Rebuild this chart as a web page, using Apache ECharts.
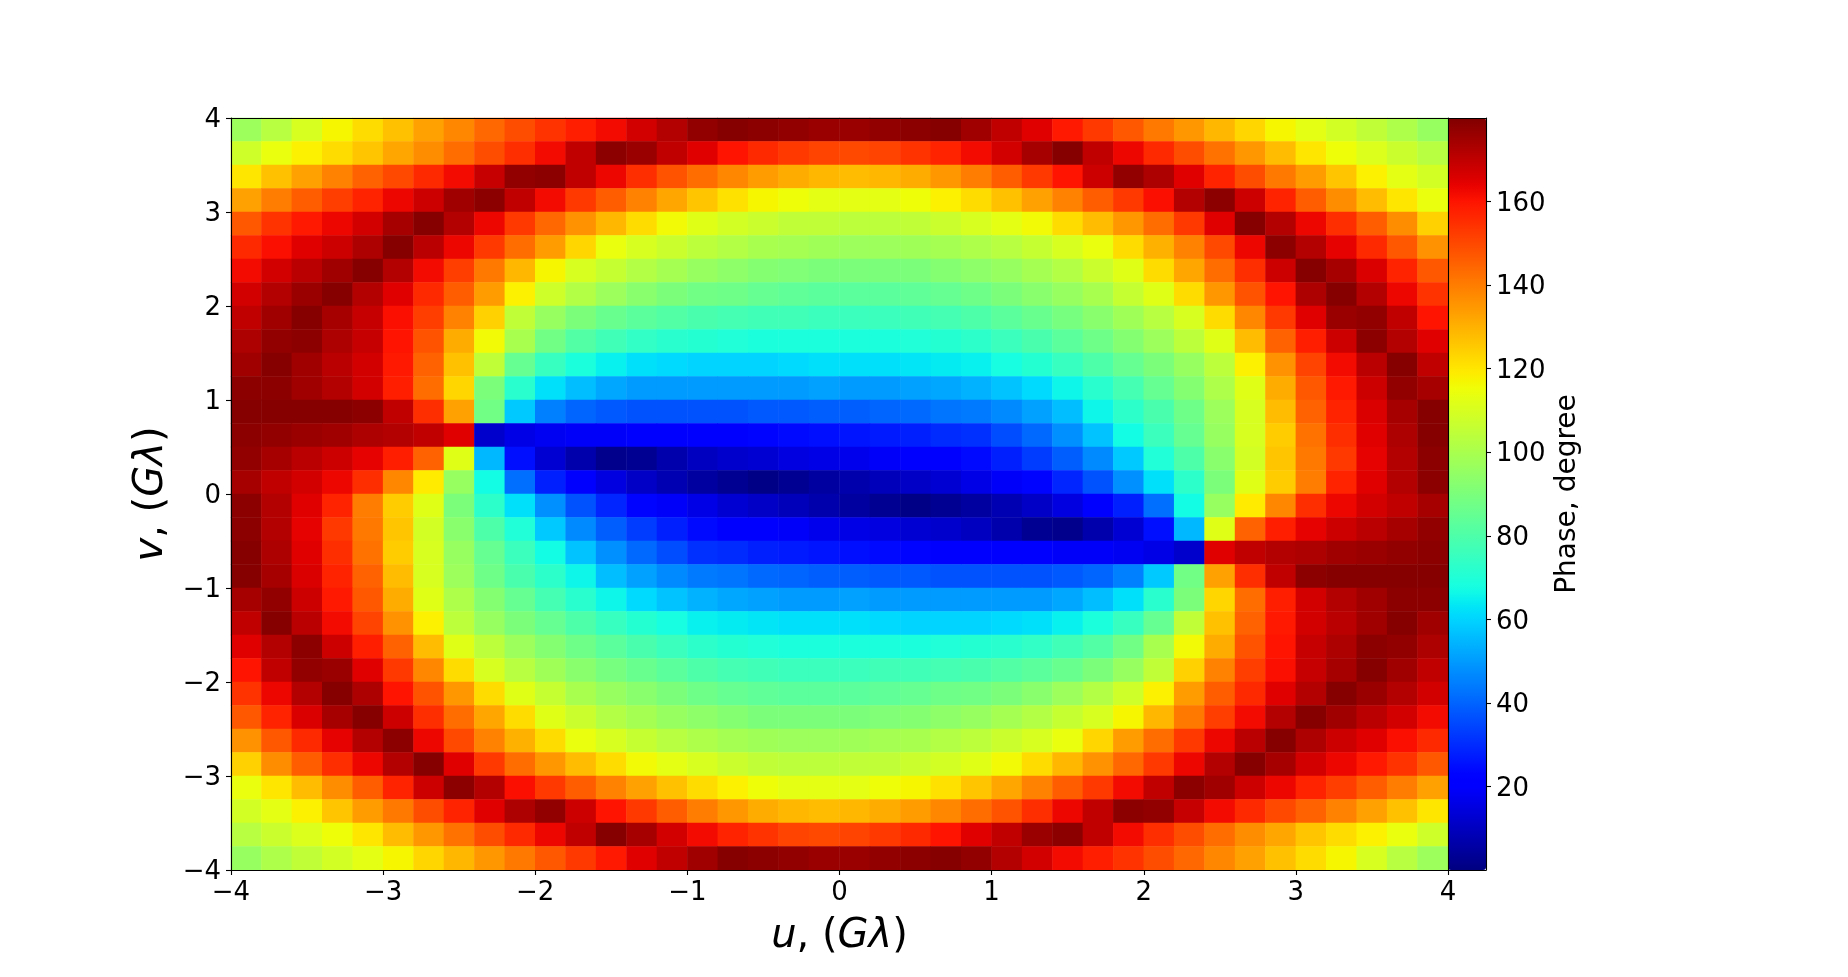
<!DOCTYPE html>
<html>
<head>
<meta charset="utf-8">
<style>html,body{margin:0;padding:0;background:#fff}#chart{width:1848px;height:977px}</style>
<script src="https://cdn.jsdelivr.net/npm/echarts@6/dist/echarts.min.js"></script>
</head>
<body>
<div id="chart"></div>
<script>
const uBins = [-3.9,-3.7,-3.5,-3.3,-3.1,-2.9,-2.7,-2.5,-2.3,-2.1,-1.9,-1.7,-1.5,-1.3,-1.1,-0.9,-0.7,-0.5,-0.3,-0.1,0.1,0.3,0.5,0.7,0.9,1.1,1.3,1.5,1.7,1.9,2.1,2.3,2.5,2.7,2.9,3.1,3.3,3.5,3.7,3.9];
const vBins = [3.875,3.625,3.375,3.125,2.875,2.625,2.375,2.125,1.875,1.625,1.375,1.125,0.875,0.625,0.375,0.125,-0.125,-0.375,-0.625,-0.875,-1.125,-1.375,-1.625,-1.875,-2.125,-2.375,-2.625,-2.875,-3.125,-3.375,-3.625,-3.875];
const colorbarTicks = [20,40,60,80,100,120,140,160];
const phaseRows = [
[97,103,110,117,122,127,133,138,144,149,154,158,162,167,172,177,179,178,177,176,176,177,178,179,175,170,165,159,153,147,141,135,129,123,117,113,109,105,101,96],
[108,114,118,122,126,132,137,143,149,155,162,170,178,176,170,165,160,156,153,151,150,151,154,157,162,167,174,179,170,163,156,149,142,135,128,120,115,111,107,103],
[120,127,133,139,145,150,156,162,169,177,178,170,163,155,148,143,138,134,131,129,128,129,131,135,140,146,153,160,168,177,173,165,157,149,141,134,126,118,113,109],
[133,140,146,152,157,163,168,175,178,170,162,153,146,139,132,126,121,117,115,113,113,113,115,118,122,127,133,139,146,153,161,172,178,168,157,146,137,128,120,114],
[147,154,159,163,167,174,179,172,163,153,144,136,129,122,116,112,109,107,105,105,104,104,105,107,110,113,116,122,128,135,143,153,165,179,172,163,155,146,137,124],
[156,161,165,168,173,179,171,163,153,143,134,123,114,110,107,104,102,100,99,98,97,97,98,99,101,103,106,110,114,122,130,139,150,163,178,172,164,156,147,136],
[162,167,171,175,179,172,162,152,141,129,117,110,106,102,99,96,94,92,91,90,90,90,90,92,94,96,99,102,107,112,122,132,143,155,168,179,174,166,157,147],
[167,172,176,179,172,165,156,146,134,118,108,102,97,93,90,88,87,85,84,83,83,83,84,85,87,90,93,96,100,106,112,122,135,148,160,173,179,172,163,154],
[170,175,179,174,169,161,152,139,124,105,96,90,86,83,81,79,78,77,77,76,76,76,77,78,80,83,86,89,93,98,103,110,122,138,153,165,176,177,170,160],
[173,177,178,173,169,160,148,131,116,100,88,81,77,74,72,71,70,69,69,69,69,69,70,71,73,76,79,83,87,92,97,104,112,128,145,158,168,178,172,165],
[175,179,175,171,167,159,145,127,105,85,75,69,65,62,61,60,60,60,61,62,62,62,63,64,65,68,71,75,80,85,90,96,104,118,136,151,162,171,179,170],
[178,178,175,172,167,158,143,123,90,72,62,56,52,50,50,50,50,50,50,51,50,50,51,52,54,57,61,66,72,78,85,92,101,112,131,147,159,168,177,174],
[179,179,179,179,178,170,155,133,88,58,45,40,38,37,37,37,37,38,38,39,39,40,41,43,44,47,51,56,66,73,79,87,97,110,128,145,157,166,174,179],
[178,177,176,175,173,172,170,165,12,16,18,19,19,20,21,21,22,23,24,25,26,27,28,30,31,36,41,48,57,67,76,85,96,110,125,142,155,165,173,179],
[177,174,171,168,164,158,145,112,55,25,13,7,2,3,7,10,12,13,15,16,17,19,21,22,24,28,33,39,47,58,70,80,93,109,126,141,153,164,172,178],
[174,170,167,163,155,138,119,96,67,42,28,20,15,11,8,5,3,1,3,5,7,9,11,13,16,19,23,29,37,48,62,73,90,112,125,140,157,165,172,178],
[178,172,165,157,140,125,112,90,73,62,48,37,29,23,19,16,13,11,9,7,5,3,1,3,5,8,11,15,20,28,42,67,96,119,138,155,163,167,170,174],
[178,172,164,153,141,126,109,93,80,70,58,47,39,33,28,24,22,21,19,17,16,15,13,12,10,7,3,2,7,13,25,55,112,145,158,164,168,171,174,177],
[179,173,165,155,142,125,110,96,85,76,67,57,48,41,36,31,30,28,27,26,25,24,23,22,21,21,20,19,19,18,16,12,165,170,172,173,175,176,177,178],
[179,174,166,157,145,128,110,97,87,79,73,66,56,51,47,44,43,41,40,39,39,38,38,37,37,37,37,38,40,45,58,88,133,155,170,178,179,179,179,179],
[174,177,168,159,147,131,112,101,92,85,78,72,66,61,57,54,52,51,50,50,51,50,50,50,50,50,50,52,56,62,72,90,123,143,158,167,172,175,178,178],
[170,179,171,162,151,136,118,104,96,90,85,80,75,71,68,65,64,63,62,62,62,61,60,60,60,61,62,65,69,75,85,105,127,145,159,167,171,175,179,175],
[165,172,178,168,158,145,128,112,104,97,92,87,83,79,76,73,71,70,69,69,69,69,69,70,71,72,74,77,81,88,100,116,131,148,160,169,173,178,177,173],
[160,170,177,176,165,153,138,122,110,103,98,93,89,86,83,80,78,77,76,76,76,77,77,78,79,81,83,86,90,96,105,124,139,152,161,169,174,179,175,170],
[154,163,172,179,173,160,148,135,122,112,106,100,96,93,90,87,85,84,83,83,83,84,85,87,88,90,93,97,102,108,118,134,146,156,165,172,179,176,172,167],
[147,157,166,174,179,168,155,143,132,122,112,107,102,99,96,94,92,90,90,90,90,91,92,94,96,99,102,106,110,117,129,141,152,162,172,179,175,171,167,162],
[136,147,156,164,172,178,163,150,139,130,122,114,110,106,103,101,99,98,97,97,98,99,100,102,104,107,110,114,123,134,143,153,163,171,179,173,168,165,161,156],
[124,137,146,155,163,172,179,165,153,143,135,128,122,116,113,110,107,105,104,104,105,105,107,109,112,116,122,129,136,144,153,163,172,179,174,167,163,159,154,147],
[114,120,128,137,146,157,168,178,172,161,153,146,139,133,127,122,118,115,113,113,113,115,117,121,126,132,139,146,153,162,170,178,175,168,163,157,152,146,140,133],
[109,113,118,126,134,141,149,157,165,173,177,168,160,153,146,140,135,131,129,128,129,131,134,138,143,148,155,163,170,178,177,169,162,156,150,145,139,133,127,120],
[103,107,111,115,120,128,135,142,149,156,163,170,179,174,167,162,157,154,151,150,151,153,156,160,165,170,176,178,170,162,155,149,143,137,132,126,122,118,114,108],
[96,101,105,109,113,117,123,129,135,141,147,153,159,165,170,175,179,178,177,176,176,177,178,179,177,172,167,162,158,154,149,144,138,133,127,122,117,110,103,97]
];

// matplotlib "jet" colormap
function ramp(t, pts) {
  for (let i = 1; i < pts.length; i++) {
    if (t <= pts[i][0]) {
      const a = pts[i - 1], b = pts[i];
      return a[1] + (b[1] - a[1]) * (t - a[0]) / (b[0] - a[0]);
    }
  }
  return pts[pts.length - 1][1];
}
const jet = [];
for (let i = 0; i <= 128; i++) {
  const t = i / 128;
  const r = ramp(t, [[0,0],[0.35,0],[0.66,1],[0.89,1],[1,0.5]]);
  const g = ramp(t, [[0,0],[0.125,0],[0.375,1],[0.64,1],[0.91,0],[1,0]]);
  const b = ramp(t, [[0,0.5],[0.11,1],[0.34,1],[0.65,0],[1,0]]);
  jet.push('rgb(' + Math.round(r*255) + ',' + Math.round(g*255) + ',' + Math.round(b*255) + ')');
}

const cells = [];
phaseRows.forEach((row, j) => row.forEach((val, i) => cells.push([i, j, val])));

const FONT = 'DejaVu Sans';
const line = { show: true, onZero: false, lineStyle: { color: '#000', width: 1.1 } };
const tick = { show: true, length: 5, lineStyle: { color: '#000', width: 1.1 } };
const label = {
  color: '#000', fontFamily: FONT, fontSize: 26, margin: 10,
  formatter: v => String(v).replace('-', '\u2212')
};
const yLabel = {
  margin: 10,
  formatter: v => '{a|' + String(v).replace('-', '\u2212') + '}',
  rich: { a: { color: '#000', fontFamily: FONT, fontSize: 26, padding: [5, 0, 0, 0] } }
};
const nameRich = {
  i: { fontFamily: FONT, fontStyle: 'italic', fontSize: 40, color: '#000' },
  n: { fontFamily: FONT, fontSize: 40, color: '#000' }
};

const chart = echarts.init(document.getElementById('chart'), null, { renderer: 'canvas' });
chart.setOption({
  animation: false,
  backgroundColor: '#fff',
  grid: [
    { left: 231, top: 118, width: 1217, height: 752 },
    { left: 1448, top: 118, width: 38, height: 752 }
  ],
  xAxis: [
    { gridIndex: 0, type: 'category', data: uBins, position: 'top', z: 5,
      axisLine: line, axisTick: { show: false }, axisLabel: { show: false }, splitLine: { show: false } },
    { gridIndex: 0, type: 'value', min: -4, max: 4, interval: 1, position: 'bottom', z: 5,
      axisLine: line, axisTick: tick, axisLabel: label, splitLine: { show: false },
      name: '{i|u}{n|, (}{i|G\u03bb}{n|)}', nameLocation: 'middle', nameGap: 47,
      nameTextStyle: { rich: nameRich } },
    { gridIndex: 1, type: 'value', min: 0, max: 1, position: 'bottom', z: 5,
      axisLine: line, axisTick: { show: false }, axisLabel: { show: false }, splitLine: { show: false } },
    { gridIndex: 1, type: 'value', min: 0, max: 1, position: 'top', z: 5,
      axisLine: line, axisTick: { show: false }, axisLabel: { show: false }, splitLine: { show: false } }
  ],
  yAxis: [
    { gridIndex: 0, type: 'category', data: vBins, inverse: true, position: 'right', z: 5,
      axisLine: line, axisTick: { show: false }, axisLabel: { show: false }, splitLine: { show: false } },
    { gridIndex: 0, type: 'value', min: -4, max: 4, interval: 1, position: 'left', z: 5,
      axisLine: line, axisTick: tick, axisLabel: yLabel, splitLine: { show: false },
      name: '{i|v}{n|, (}{i|G\u03bb}{n|)}', nameLocation: 'middle', nameGap: 53, nameRotate: 90,
      nameTextStyle: { rich: nameRich } },
    { gridIndex: 1, type: 'value', min: 0, max: 180, position: 'right', z: 5,
      axisLine: line,
      axisTick: Object.assign({}, tick, { customValues: colorbarTicks }),
      axisLabel: Object.assign({}, yLabel, { customValues: colorbarTicks }),
      splitLine: { show: false },
      name: 'Phase, degree', nameLocation: 'middle', nameGap: 68, nameRotate: 90,
      nameTextStyle: { fontFamily: FONT, fontSize: 28, color: '#000' } }
  ],
  visualMap: {
    type: 'continuous', seriesIndex: 0, min: 0, max: 180, calculable: false, hoverLink: false,
    orient: 'vertical', left: 1443, top: 113, padding: 5, itemWidth: 38, itemHeight: 752,
    text: null, showLabel: false, inRange: { color: jet }
  },
  series: [{
    type: 'heatmap', xAxisIndex: 0, yAxisIndex: 0, data: cells, progressive: 0,
    itemStyle: { borderWidth: 0 }, emphasis: { disabled: true }
  }]
});
</script>
</body>
</html>
